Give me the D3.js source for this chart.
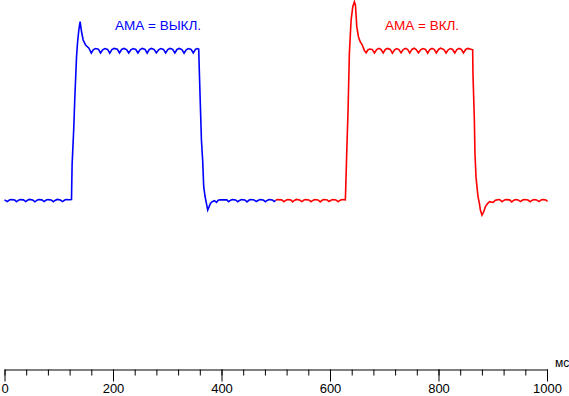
<!DOCTYPE html>
<html>
<head>
<meta charset="utf-8">
<script src="https://cdn.jsdelivr.net/npm/d3@7"></script>
<style>
  body { margin: 0; background: #fff; }
  svg { display: block; font-family: Arial, "Liberation Sans", sans-serif; }
</style>
</head>
<body>
<div id="chart"></div>
<script>
// response curves, [time ms, brightness %]
const blueSeries = [
  [0, 0.4], [5, -0.7], [9, 0.3], [12, 0.6], [19, 0.4], [22, -0.8], [26, 0.2], [29, 0.6],
  [35, 0.4], [39, -0.7], [43, 0.3], [46, 0.7], [52, 0.3], [56, -0.9], [60, 0.2], [63, 0.6],
  [69, 0.4], [73, -0.7], [77, 0.3], [80, 0.6], [86, 0.4], [90, -0.8], [94, 0.2], [97, 0.7],
  [103, 0.3], [107, -0.7], [111, 0.3], [114, 0.6], [120, 0.5], [123.5, 0.6],
  [124.6, 23.7], [127.8, 49.2], [129.6, 68.3], [132.8, 95.9], [134.6, 105], [137, 113.7],
  [139.4, 119.2], [142, 112.5], [145, 107], [149.4, 103.7], [155.6, 101.5], [160, 98.3],
  [164, 100.6], [168, 101.3], [173, 100.9], [177, 98.4],
  [181, 100.5], [185, 101.3], [190, 100.7], [194, 98.2],
  [198, 100.6], [202, 101.4], [208, 100.8], [212, 98.4],
  [216, 100.7], [220, 101.4], [225, 100.6], [229, 98.3],
  [233, 100.5], [237, 101.3], [242, 100.7], [246, 98.4],
  [250, 100.6], [254, 101.4], [259, 100.8], [263, 98.2],
  [267, 100.7], [271, 101.4], [276, 100.6], [280, 98.4],
  [284, 100.5], [288, 101.3], [293, 100.7], [297, 98.3],
  [301, 100.6], [305, 101.4], [310, 100.8], [314, 98.4],
  [318, 100.7], [322, 101.4], [327, 100.6], [331, 98.2],
  [335, 100.5], [339, 101.3], [344, 100.7], [348, 98.4],
  [352, 100.8], [355, 101.3], [358, 100.9],
  [358.7, 91.5], [361.1, 62.5], [363, 40.3], [365.4, 25.9], [367.2, 9.2], [369.8, 2.5],
  [372.2, -1.9], [374.6, -6.3], [377.2, -4.1], [379.6, -1.9], [382.8, -0.8], [387, -0.1],
  [390.7, -1.3], [394, 0.2], [397, 0.5], [410, 0.4], [413, -0.8], [417, 0.2], [420, 0.6],
  [426, 0.4], [430, -0.8], [434, 0.2], [437, 0.6], [443, 0.4], [447, -0.9], [451, 0.3],
  [454, 0.7], [460, 0.4], [464, -0.7], [468, 0.2], [471, 0.6], [477, 0.3], [481, -0.8],
  [485, 0.2], [488, 0.6], [494, 0.4], [497, -0.7], [500, 0.1]
];

const redSeries = [
  [500, 0.1], [503, 0.6], [511, 0.4], [515, -0.8], [519, 0.2], [522, 0.6], [528, 0.4],
  [531, -0.9], [535, 0.2], [538, 0.7], [544, 0.3], [548, -0.7], [552, 0.3], [555, 0.6],
  [561, 0.4], [565, -0.8], [569, 0.2], [572, 0.6], [578, 0.4], [582, -0.9], [586, 0.3],
  [589, 0.7], [595, 0.4], [598, -0.7], [602, 0.2], [605, 0.6], [611, 0.4], [615, -0.8],
  [619, 0.2], [622, 0.6], [626, 0.5], [628.3, 0.4],
  [628.8, 5.9], [631, 33.7], [633.3, 60.3], [635.7, 98.1], [638.9, 120.3], [642, 129.2],
  [645, 132.5], [646.9, 130.3], [649.4, 115.9], [652.4, 109.2], [655.6, 105.9],
  [659.3, 103.7], [663.5, 99.9], [666.7, 98.5],
  [670, 100.5], [674, 101.0], [678, 100.6], [682, 98.3],
  [686, 100.6], [690, 101.4], [694, 100.7], [698, 98.4],
  [702, 100.7], [706, 101.4], [711, 100.7], [715, 98.2],
  [719, 100.5], [723, 101.3], [727, 100.6], [731, 98.4],
  [735, 100.6], [739, 101.4], [743, 100.8], [747, 98.3],
  [751, 100.7], [755, 101.5], [759, 100.6], [763, 98.4],
  [767, 100.5], [771, 101.3], [776, 100.7], [780, 98.2],
  [784, 100.6], [788, 101.4], [792, 100.8], [796, 98.4],
  [800, 100.7], [804, 101.5], [810, 100.6], [814, 98.3],
  [818, 100.5], [822, 101.3], [826, 100.7], [830, 98.4],
  [834, 100.6], [838, 101.4], [842, 100.8], [846, 98.4],
  [850, 100.7], [854, 101.4], [858, 101.0], [863, 100.5],
  [863.5, 84.8], [866.1, 53.7], [867.2, 31.5], [869.1, 15.9], [870.9, 9.2], [872.8, 2.5],
  [875.4, -1.9], [877.2, -6.3], [880.2, -9.7], [883.3, -7.5], [886.5, -4.1], [890.7, -1.9],
  [894.4, -0.8], [900.6, -1.3], [905, 0.2], [910, 0.6], [913, 0.5], [917, -0.8], [921, 0.2],
  [924, 0.6], [931, 0.4], [935, -0.9], [939, 0.2], [942, 0.6], [947, 0.4], [951, -0.7],
  [955, 0.3], [958, 0.7], [965, 0.3], [969, -0.8], [973, 0.2], [976, 0.6], [981, 0.4],
  [985, -0.7], [989, 0.3], [992, 0.6], [998, 0.4], [1001, -0.7]
];

const majorTicks = [0, 200, 400, 600, 800, 1000];
const minorTicks = d3.range(0, 1001, 40);
const unitLabel = "мс";
const blueLabel = "АМА = ВЫКЛ.";
const redLabel = "АМА = ВКЛ.";

const width = 569, height = 396;

const svg = d3.select("#chart")
  .append("svg")
  .attr("width", width)
  .attr("height", height);

const x = d3.scaleLinear().domain([0, 1000]).range([4.5, 547]);
const y = d3.scaleLinear().domain([0, 100]).range([200.5, 50.5]);
const axisY = 369.5;

// minor ticks
svg.append("g")
  .attr("transform", `translate(0,${axisY})`)
  .call(d3.axisBottom(x).tickValues(minorTicks).tickSize(6).tickSizeOuter(0).tickFormat(""))
  .call(g => g.select(".domain").remove());

// major ticks + labels
svg.append("g")
  .attr("transform", `translate(0,${axisY})`)
  .call(d3.axisBottom(x).tickValues(majorTicks).tickSize(12).tickSizeOuter(0)
    .tickPadding(2).tickFormat(d3.format("d")))
  .call(g => g.selectAll("text").style("font-size", "13px")
    .style("font-family", "Arial, 'Liberation Sans', sans-serif").attr("fill", "#000"))
  .call(g => g.selectAll("line, path").attr("stroke", "#000"));

svg.append("text")
  .attr("x", 555)
  .attr("y", axisY - 3)
  .attr("font-size", 12)
  .text(unitLabel);

const line = d3.line()
  .x(d => x(d[0]))
  .y(d => y(d[1]));

svg.append("path")
  .datum(blueSeries)
  .attr("fill", "none")
  .attr("stroke", "#0000ff")
  .attr("stroke-width", 1.6)
  .attr("d", line);

svg.append("path")
  .datum(redSeries)
  .attr("fill", "none")
  .attr("stroke", "#ff0000")
  .attr("stroke-width", 1.6)
  .attr("d", line);

svg.append("text")
  .attr("x", 115)
  .attr("y", 30)
  .attr("font-size", 13.5)
  .attr("fill", "#0000ff")
  .text(blueLabel);

svg.append("text")
  .attr("x", 385)
  .attr("y", 30)
  .attr("font-size", 13.5)
  .attr("fill", "#ff0000")
  .text(redLabel);
</script>
</body>
</html>
